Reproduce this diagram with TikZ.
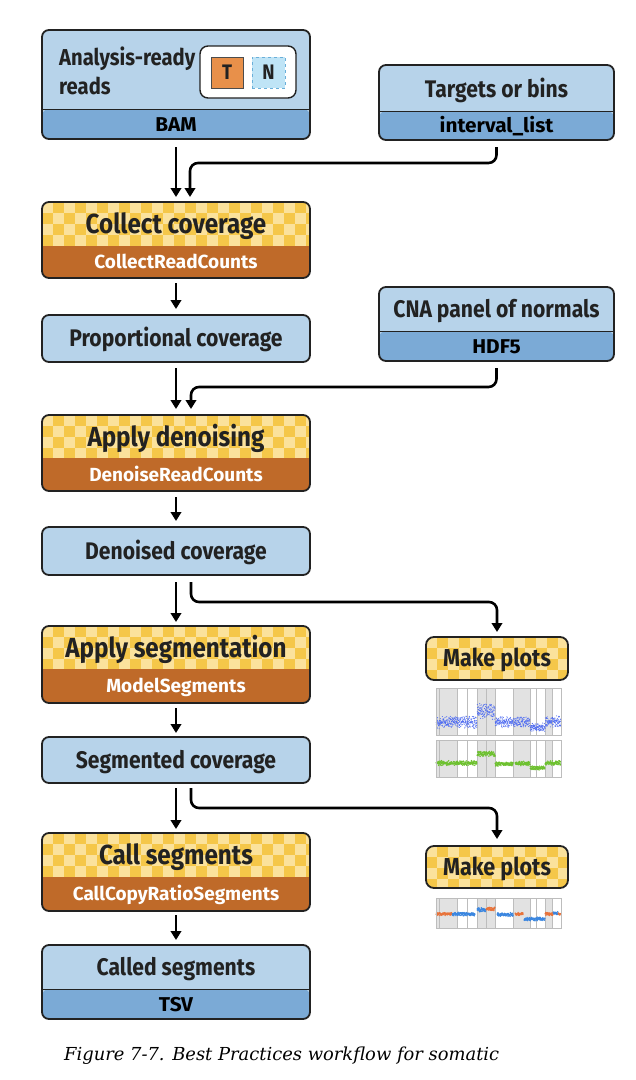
\documentclass[tikz,border=0pt]{standalone}
\usepackage{fontspec}
\setmainfont{Fira Sans}
\newfontfamily\fs{Fira Sans}[FakeStretch=0.88]
\newfontfamily\fsw{Fira Sans}[FakeStretch=1.04]
\newfontfamily\fsn{Fira Sans}
\newfontfamily\capfont{DejaVu Serif}
\usetikzlibrary{arrows.meta,calc}
\definecolor{lblue}{HTML}{B7D3EA}
\definecolor{bblue}{HTML}{7BAAD6}
\definecolor{boxline}{HTML}{222222}
\definecolor{chkA}{HTML}{F5C749}
\definecolor{chkB}{HTML}{FBE29C}
\definecolor{brown}{HTML}{BF6A29}
\definecolor{torange}{HTML}{E8904A}
\definecolor{ncyan}{HTML}{BFE4F6}
\definecolor{ndash}{HTML}{6AAFD9}
\definecolor{txt}{HTML}{222222}
\definecolor{pgray}{HTML}{E2E2E2}
\definecolor{pline}{HTML}{BDBDBD}
\definecolor{pblue}{HTML}{4F6CF2}
\definecolor{pgreen}{HTML}{6DC12E}
\definecolor{porange}{HTML}{E9733A}
\definecolor{pblue2}{HTML}{3A86E0}
\tikzset{
  box/.style={draw=boxline, line width=1.8pt, rounded corners=7pt, inner sep=0pt, outer sep=0pt},
  databox/.style={box, fill=lblue, minimum width=268pt},
  rdatabox/.style={box, fill=lblue, minimum width=235pt},
  band/.style 2 args={path picture={
      \fill[#1] ([yshift=#2]path picture bounding box.south west) rectangle (path picture bounding box.south east);
      \draw[boxline, line width=1pt] ([yshift=#2]path picture bounding box.south west) -- ([yshift=#2]path picture bounding box.south east);}},
  chkbox/.style={inner sep=0pt, outer sep=0pt, minimum width=268pt},
  head/.style={font=\fs\bfseries\fontsize{27.5}{31}\selectfont, text=txt, text height=19pt, text depth=0pt, inner sep=0pt},
  ttl/.style={font=\fs\bfseries\fontsize{24}{28}\selectfont, text=txt, text height=16.5pt, text depth=0pt, inner sep=0pt},
  wsub/.style={font=\fsn\bfseries\fontsize{19}{23}\selectfont, text=white, text height=13pt, text depth=0pt, inner sep=0pt},
  bsub/.style={font=\fsw\bfseries\fontsize{20}{24}\selectfont, text=black, text height=14pt, text depth=0pt, inner sep=0pt},
  arr/.style={line width=2.6pt, draw=black, -{Triangle[width=10.5pt,length=9pt]}},
  plotbox/.style={draw=pline, line width=0.8pt, minimum width=125pt, inner sep=0pt, outer sep=0pt},
}
% checker fill of a process box, brown band of height #2, corner radius #3
\newcommand\checkerfill[3]{%
  \begin{scope}
    \clip[rounded corners=#3] (#1.north west) rectangle (#1.south east);
    \fill[chkA] (#1.north west) rectangle (#1.south east);
    \foreach \i in {0,...,25}{\foreach \j in {0,...,7}{%
      \pgfmathtruncatemacro\k{mod(\i+\j,2)}%
      \ifnum\k=0 \fill[chkB] ($(#1.north west)+(\i*11,\j*11)$) rectangle ++(11,11);\fi}}
    \fill[brown] ($(#1.south west)+(0,-#2)$) rectangle (#1.south east);
  \end{scope}
  \draw[boxline, line width=1.8pt, rounded corners=#3] (#1.north west) rectangle (#1.south east);}
\newcommand\plotbands[2]{%
  \begin{scope}[shift={(#1.north west)}]
    \foreach \a/\b in {0/21,41/59,77/94,109/116}{\fill[pgray] (\a,0) rectangle (\b,#2);}
    \foreach \a in {3,21,31,41,50,59,77,94,100,109,116}{\draw[pline, line width=0.5pt] (\a,0) -- (\a,#2);}
  \end{scope}}
% node, u1, u2, level, amplitude, colour, dot radius
\newcommand\plotseg[7]{%
  \begin{scope}[shift={(#1.north west)}]
    \pgfmathsetmacro\ustart{#2+0.3}\pgfmathsetmacro\unext{#2+0.7}%
    \foreach \u in {\ustart,\unext,...,#3}{\pgfmathsetmacro\yy{#4+#5*(rand+rand)/2}\fill[#6] (\u,\yy) circle (#7);}
  \end{scope}}
\begin{document}
\begin{tikzpicture}[x=1pt,y=-1pt]
\pgfmathsetseed{7}
\useasboundingbox[fill=white] (0,0) rectangle (636,1080);

% ---- boxes ----
\node[databox, minimum height=109pt, band={bblue}{30pt}] (bam) at (176,84.5) {};
\node[draw=boxline, line width=1.4pt, rounded corners=8pt, fill=white, minimum width=96pt, minimum height=52pt] (tn) at (248,72) {};
\node[draw=black!70, line width=0.8pt, fill=torange, minimum width=32pt, minimum height=31pt, inner sep=0pt, font=\fs\bfseries\fontsize{21}{24}\selectfont, text=txt] (tbox) at (227,72.5) {T};
\node[draw=ndash, dashed, line width=0.8pt, fill=ncyan, minimum width=33pt, minimum height=31pt, inner sep=0pt, font=\fs\bfseries\fontsize{21}{24}\selectfont, text=txt] (nbox) at (268.5,72.5) {N};
\node[ttl, font=\fs\bfseries\fontsize{23}{28}\selectfont, anchor=base west, text height=] (bamt1) at (59,65) {Analysis-ready};
\node[ttl, font=\fs\bfseries\fontsize{23}{28}\selectfont, anchor=base west, text height=] (bamt2) at (59,94) {reads};
\node[bsub] (bams) at (176,124) {BAM};

\node[rdatabox, minimum height=75pt, band={bblue}{29pt}] (targets) at (496.5,102.5) {};
\node[ttl] (targetst) at (496.5,89) {Targets or bins};
\node[bsub] (targetss) at (496.5,125.5) {interval\_list};

\node[chkbox, minimum height=76pt] (collect) at (176,240) {};
\checkerfill{collect}{32}{7pt}
\node[head] (collectt) at (176,224) {Collect coverage};
\node[wsub] (collects) at (176,262) {CollectReadCounts};

\node[databox, minimum height=47pt] (prop) at (176,338.5) {};
\node[ttl] (propt) at (176,338.5) {Proportional coverage};

\node[rdatabox, minimum height=74pt, band={bblue}{30pt}] (cna) at (496.5,324) {};
\node[ttl] (cnat) at (496.5,309) {CNA panel of normals};
\node[bsub] (cnas) at (496.5,346) {HDF5};

\node[chkbox, minimum height=76pt] (denoise) at (176,453) {};
\checkerfill{denoise}{33}{7pt}
\node[head] (denoiset) at (176,436.5) {Apply denoising};
\node[wsub] (denoises) at (176,474.5) {DenoiseReadCounts};

\node[databox, minimum height=48pt] (dcov) at (176,551) {};
\node[ttl] (dcovt) at (176,551) {Denoised coverage};

\node[chkbox, minimum height=77pt] (segm) at (176,664.5) {};
\checkerfill{segm}{34}{7pt}
\node[head] (segmt) at (176,647.5) {Apply segmentation};
\node[wsub] (segms) at (176,686) {ModelSegments};

\node[databox, minimum height=46pt] (scov) at (176,760) {};
\node[ttl] (scovt) at (176,760) {Segmented coverage};

\node[chkbox, minimum height=78pt] (call) at (176,872) {};
\checkerfill{call}{34}{7pt}
\node[head] (callt) at (176,855) {Call segments};
\node[wsub] (calls) at (176,894) {CallCopyRatioSegments};

\node[databox, minimum height=74pt, band={bblue}{30pt}] (called) at (176,982) {};
\node[ttl] (calledt) at (176,967) {Called segments};
\node[bsub] (calleds) at (176,1004) {TSV};

\node[chkbox, minimum width=142pt, minimum height=43pt] (plots1) at (497,658.5) {};
\checkerfill{plots1}{0}{8pt}
\node[ttl, font=\fs\bfseries\fontsize{24.5}{28}\selectfont] (plots1t) at (497,658.5) {Make plots};
\node[chkbox, minimum width=142pt, minimum height=42pt] (plots2) at (497,867) {};
\checkerfill{plots2}{0}{8pt}
\node[ttl, font=\fs\bfseries\fontsize{24.5}{28}\selectfont] (plots2t) at (497,867) {Make plots};

% ---- plots ----
\node[plotbox, minimum height=47pt, fill=white] (pl1) at (498.5,711.5) {};
\plotbands{pl1}{47}
\foreach \r in {1,2,3}{
\plotseg{pl1}{0}{41}{34}{7}{pblue}{0.55}
\plotseg{pl1}{41}{59}{23}{9}{pblue}{0.55}
\plotseg{pl1}{59}{94}{34}{6.5}{pblue}{0.55}
\plotseg{pl1}{94}{109}{39}{5}{pblue}{0.55}
\plotseg{pl1}{109}{124.5}{34}{6.5}{pblue}{0.55}}
\node[plotbox, minimum height=47pt] (pl1b) at (pl1) {};

\node[plotbox, minimum height=37pt, fill=white] (pl2) at (498.5,758.5) {};
\plotbands{pl2}{37}
\foreach \r in {1,2}{
\plotseg{pl2}{0}{41}{23}{2.6}{pgreen}{0.8}
\plotseg{pl2}{41}{59}{14}{3.2}{pgreen}{0.8}
\plotseg{pl2}{59}{77}{24}{2.4}{pgreen}{0.8}
\plotseg{pl2}{79}{94}{23.5}{2.4}{pgreen}{0.8}
\plotseg{pl2}{94}{109}{28}{2.2}{pgreen}{0.8}
\plotseg{pl2}{109}{124.5}{23}{2.6}{pgreen}{0.8}}
\node[plotbox, minimum height=37pt] (pl2b) at (pl2) {};

\node[plotbox, minimum height=30pt, fill=white] (pl3) at (498.5,913) {};
\plotbands{pl3}{30}
\foreach \r in {1,2}{
\plotseg{pl3}{0}{16}{16}{1.8}{porange}{0.8}
\plotseg{pl3}{16}{39}{16}{2}{pblue2}{0.8}
\plotseg{pl3}{41}{50}{12}{2.4}{pblue2}{0.8}
\plotseg{pl3}{50}{59}{11}{2}{porange}{0.8}
\plotseg{pl3}{61}{77}{16.5}{2}{pblue2}{0.8}
\plotseg{pl3}{79}{87}{16}{1.8}{porange}{0.8}
\plotseg{pl3}{88}{109}{21}{2}{pblue2}{0.8}
\plotseg{pl3}{109}{117}{16}{1.8}{porange}{0.8}
\plotseg{pl3}{117}{122}{15}{2}{pblue2}{0.8}
\plotseg{pl3}{122}{124.5}{16}{1.8}{porange}{0.8}}
\node[plotbox, minimum height=30pt] (pl3b) at (pl3) {};

% ---- connectors ----
\coordinate (j1) at (190,163);
\coordinate (j2) at (191,387);
\coordinate (j3) at (191,602);
\coordinate (j4) at (191,808);
\draw[arr, shorten <=8pt, shorten >=5pt] (bam.south) -- (collect.north);
\draw[arr, rounded corners=8pt, shorten <=7pt, shorten >=5pt] (targets.south) |- (j1) -- (j1 |- collect.north);
\draw[arr, shorten <=5pt, shorten >=6pt] (collect.south) -- (prop.north);
\draw[arr, shorten <=6pt, shorten >=6pt] (prop.south) -- (denoise.north);
\draw[arr, rounded corners=8pt, shorten <=7pt, shorten >=6pt] (cna.south) |- (j2) -- (j2 |- denoise.north);
\draw[arr, shorten <=6pt, shorten >=6pt] (denoise.south) -- (dcov.north);
\draw[arr, shorten <=7pt, shorten >=4pt] (dcov.south) -- (segm.north);
\draw[arr, rounded corners=8pt, shorten <=7pt, shorten >=5pt] (dcov.south -| j3) |- (plots1.north |- j3) -- (plots1.north);
\draw[arr, shorten <=5pt, shorten >=4pt] (segm.south) -- (scov.north);
\draw[arr, shorten <=5pt, shorten >=4pt] (scov.south) -- (call.north);
\draw[arr, rounded corners=8pt, shorten <=5pt, shorten >=7pt] (scov.south -| j4) |- (plots2.north |- j4) -- (plots2.north);
\draw[arr, shorten <=4pt, shorten >=5pt] (call.south) -- (called.north);

% ---- caption ----
\node[anchor=base west, inner sep=0pt, font=\capfont\itshape\fontsize{17.9}{20}\selectfont, text=black] (cap) at (64,1060) {Figure 7-7. Best Practices workflow for somatic};
\end{tikzpicture}
\end{document}
